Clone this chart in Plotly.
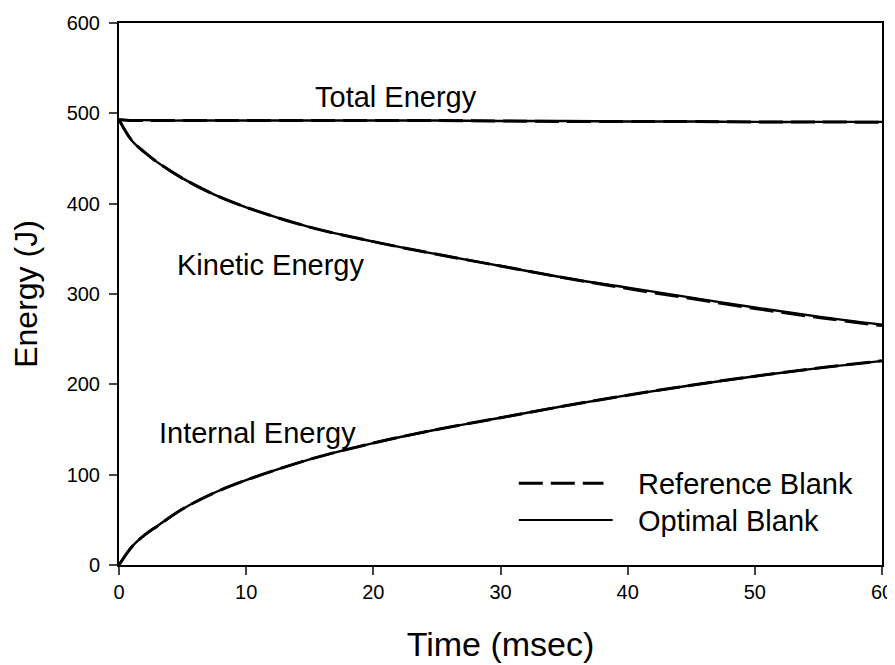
import plotly.graph_objects as go

# Data
time_ms = [0, 1, 2, 3, 5, 7.5, 10, 15, 20, 25, 30, 35, 40, 45, 50, 55, 60]

ref_total = [493, 492, 492, 492, 492, 492, 492, 492, 492, 492, 491.5, 491, 491, 491, 490.5, 490.5, 490]
ref_kinetic = [493, 470, 457, 446, 428, 410, 396, 374, 358, 344, 331, 318, 306, 295, 284, 274, 265]
ref_internal = [0, 20, 33, 43, 62, 80, 94, 117, 135, 150, 163, 176, 188, 199, 209, 218, 226]

opt_total = [493, 492.5, 492.5, 492, 492, 492, 492, 492, 492, 492, 491.5, 491.5, 491, 491, 490.5, 490.5, 490.5]
opt_kinetic = [493, 470, 457, 446, 428, 410, 396, 374, 358, 344, 331, 318, 307, 296, 285, 275, 266]
opt_internal = [0, 20, 33, 43, 62, 80, 94, 117, 135, 150, 163, 176, 188, 199, 209, 218, 226]

x_ticks = [0, 10, 20, 30, 40, 50, 60]
y_ticks = [0, 100, 200, 300, 400, 500, 600]

curve_labels = ["Total Energy", "Kinetic Energy", "Internal Energy"]
label_x = [21.8, 11.95, 10.86]
label_y = [518, 332, 146]

legend_names = ["Reference Blank", "Optimal Blank"]

FONT = "Liberation Sans, Arial, Helvetica, sans-serif"

fig = go.Figure()

for ys in (ref_total, ref_kinetic, ref_internal):
    fig.add_trace(go.Scatter(x=time_ms, y=ys, mode="lines",
                             line=dict(color="black", width=3, dash="24px,8px", shape="spline"),
                             showlegend=False, hoverinfo="skip"))
for ys in (opt_total, opt_kinetic, opt_internal):
    fig.add_trace(go.Scatter(x=time_ms, y=ys, mode="lines",
                             line=dict(color="black", width=2.4, shape="spline"),
                             showlegend=False, hoverinfo="skip"))

for txt, lx, ly in zip(curve_labels, label_x, label_y):
    fig.add_annotation(x=lx, y=ly, text=txt, showarrow=False, xref="x", yref="y",
                       font=dict(family=FONT, size=29, color="black"))

# Custom legend (paper coordinates)
leg_y = [0.151, 0.083]
leg_x1 = [0.635, 0.647]
leg_dash = ["24px,8px", "solid"]
leg_w = [3, 2.2]
for name, ly, x1, dsh, w in zip(legend_names, leg_y, leg_x1, leg_dash, leg_w):
    fig.add_shape(type="line", xref="paper", yref="paper", x0=0.524, x1=x1, y0=ly, y1=ly,
                  line=dict(color="black", width=w, dash=dsh))
    fig.add_annotation(x=0.677, y=ly - 0.002, xref="paper", yref="paper", text=name, showarrow=False,
                       xanchor="left", yanchor="middle", font=dict(family=FONT, size=29, color="black"))

fig.update_xaxes(range=[0, 60], tickvals=x_ticks, ticks="outside", ticklen=8, tickwidth=2,
                 showline=True, linecolor="black", linewidth=2, mirror=True, showgrid=False, zeroline=False,
                 automargin=False,
                 tickfont=dict(family=FONT, size=20, color="black"),
                 title=dict(text="Time (msec)", font=dict(family=FONT, size=34, color="black"), standoff=30))
fig.update_yaxes(range=[0, 600], tickvals=y_ticks, ticks="outside", ticklen=8, tickwidth=2,
                 showline=True, linecolor="black", linewidth=2, mirror=True, showgrid=False, zeroline=False,
                 automargin=False, ticklabelstandoff=5,
                 tickfont=dict(family=FONT, size=20, color="black"),
                 title=dict(text="Energy (J)", font=dict(family=FONT, size=32, color="black"), standoff=22))

fig.update_layout(width=887, height=657, margin=dict(l=111, r=13, t=15, b=100),
                  plot_bgcolor="white", paper_bgcolor="white", showlegend=False)

fig.write_html("out.html")
